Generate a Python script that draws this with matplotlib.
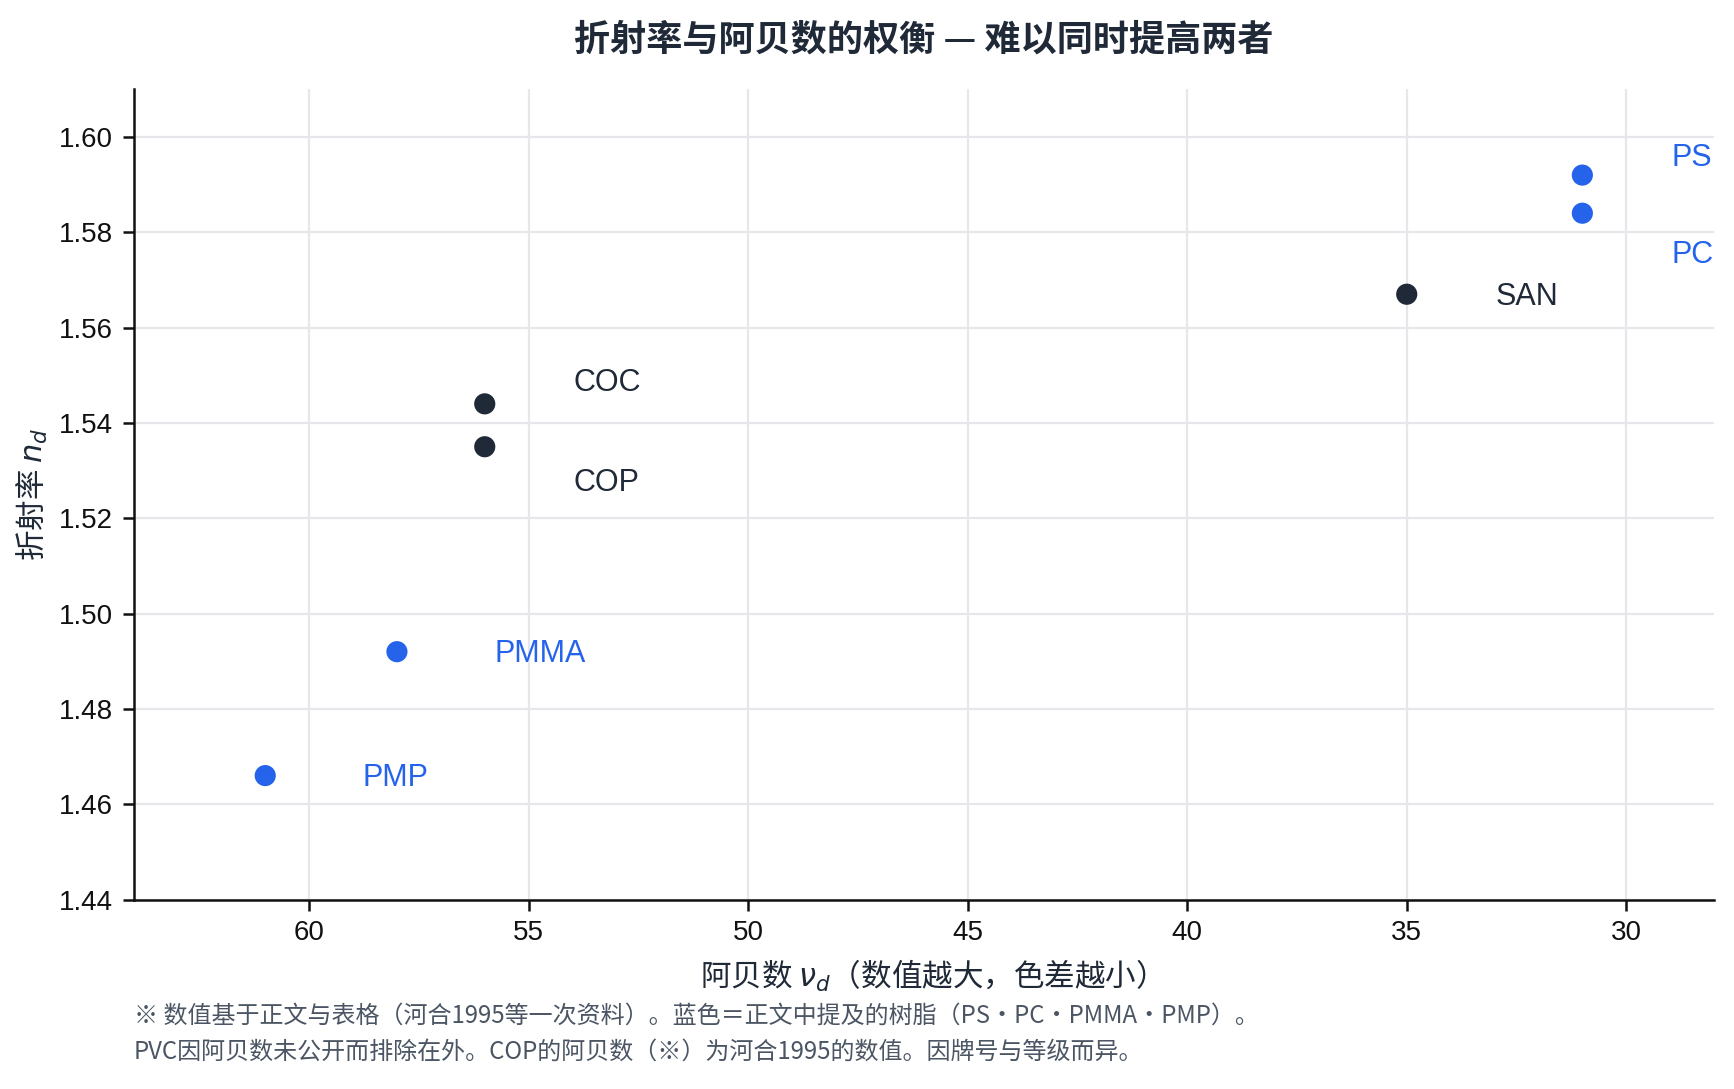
"""
折射率与阿贝数的散点图（阿贝数轴反向）。
"""
import matplotlib
matplotlib.use("Agg")
import matplotlib.pyplot as plt

plt.rcParams["font.family"] = ["Liberation Sans", "Noto Sans CJK SC", "DejaVu Sans"]
plt.rcParams["axes.unicode_minus"] = False

CJK = ["Noto Sans CJK SC", "DejaVu Sans"]

BLUE = "#2563EB"
DARK = "#1F2937"
GRID = "#E5E7EB"
NOTE = "#4B5563"

resins = ["PS", "PC", "SAN", "COC", "COP", "PMMA", "PMP"]
abbe = [31, 31, 35, 56, 56, 58, 61]
n_d = [1.592, 1.584, 1.567, 1.544, 1.535, 1.492, 1.466]
in_text = [True, True, False, False, False, True, True]
# 标签偏移（points）
label_dx = [32, 32, 32, 32, 32, 35, 35]
label_dy = [6, -15, -1, 7.5, -13, -1, -1]

fig = plt.figure(figsize=(8.67, 5.445), dpi=200)
ax = fig.add_axes([0.077, 0.174, 0.9115, 0.744])

colors = [BLUE if t else DARK for t in in_text]
ax.scatter(abbe, n_d, s=58, c=colors, zorder=3, linewidths=0)

for name, x, y, c, dx, dy in zip(resins, abbe, n_d, colors, label_dx, label_dy):
    ax.annotate(
        name,
        (x, y),
        textcoords="offset points",
        xytext=(dx, dy),
        ha="left",
        va="center",
        fontsize=11,
        color=c,
        annotation_clip=False,
    )

ax.set_xlim(64, 28)
ax.set_ylim(1.44, 1.61)
ax.set_xticks([60, 55, 50, 45, 40, 35, 30])
ax.set_yticks([1.44, 1.46, 1.48, 1.50, 1.52, 1.54, 1.56, 1.58, 1.60])
ax.set_yticklabels([f"{v:.2f}" for v in ax.get_yticks()])
ax.tick_params(labelsize=10, colors="#111111", length=4, width=0.9)

ax.grid(True, color=GRID, linewidth=0.8, zorder=0)
ax.set_axisbelow(True)
for side in ["top", "right"]:
    ax.spines[side].set_visible(False)
for side in ["left", "bottom"]:
    ax.spines[side].set_linewidth(0.9)
    ax.spines[side].set_color("#111111")

ax.set_xlabel("阿贝数 $\\nu_d$（数值越大，色差越小）", fontsize=11, color=DARK,
              labelpad=4, family=CJK)
ax.set_ylabel("折射率 $n_d$", fontsize=11, color=DARK, labelpad=3, family=CJK)
ax.set_title("折射率与阿贝数的权衡 — 难以同时提高两者", fontsize=13, fontweight="bold",
             color=DARK, pad=14, family=CJK)

fig.text(
    0.077,
    0.022,
    "※ 数值基于正文与表格（河合1995等一次资料）。蓝色＝正文中提及的树脂（PS・PC・PMMA・PMP）。\n"
    "PVC因阿贝数未公开而排除在外。COP的阿贝数（※）为河合1995的数值。因牌号与等级而异。",
    fontsize=8.65,
    color=NOTE,
    ha="left",
    va="bottom",
    linespacing=1.5,
    family=CJK,
)

fig.savefig("out.png", dpi=200, facecolor="white")
plt.close(fig)
